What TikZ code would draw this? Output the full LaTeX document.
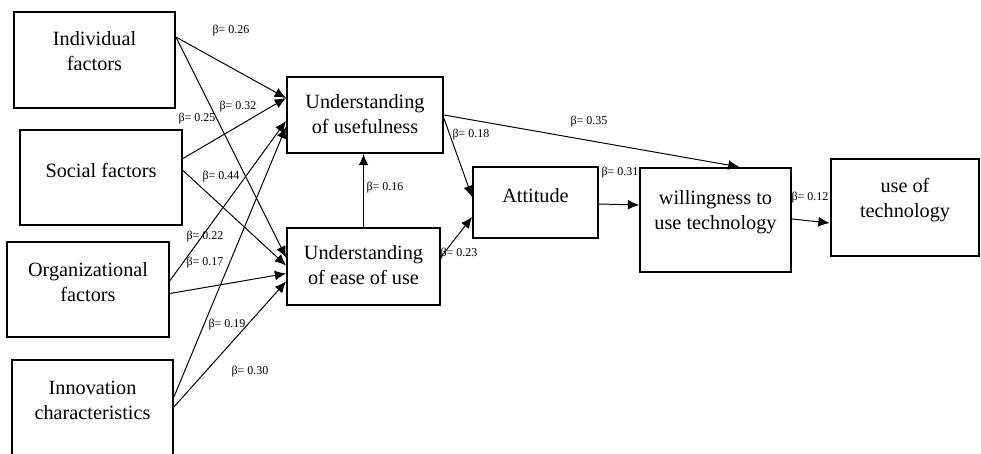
\documentclass[tikz,border=0pt]{standalone}
\usepackage{fontspec}
\setmainfont{Liberation Serif}
\usepackage{tikz}
\usetikzlibrary{positioning, arrows.meta, calc}

\tikzset{
	box/.style={draw, line width=1.4pt, align=center, inner xsep=2pt, inner ysep=0pt, font=\fontsize{14.4}{17.5}\selectfont},
	coef/.style={inner sep=0pt, font=\fontsize{8.5}{10}\selectfont},
	arr/.style={line width=0.7pt, -{Latex[length=8pt,width=7pt]}}
}

\begin{document}
\begin{tikzpicture}[x=0.025cm, y=-0.025cm]
	\useasboundingbox (0,0) rectangle (981,454);
	\node (ind) [box, minimum width=4.02cm, text height=1.465cm, text depth=0.935cm] at (94.5,60) {Individual\\factors};
	\node (soc) [box, minimum width=4.05cm, text height=1.175cm, text depth=1.2cm] at (101,177.5) {Social factors};
	\node (org) [box, minimum width=4.05cm, text height=1.475cm, text depth=0.9cm] at (88,289.5) {Organizational\\factors};
	\node (inn) [box, minimum width=4.02cm, text height=1.49cm, text depth=0.91cm] at (92.5,408) {Innovation\\characteristics};
	\node (use) [box, minimum width=3.9cm, text height=1.4cm, text depth=0.5cm] at (365,115) {Understanding\\of usefulness};
	\node (ease) [box, minimum width=3.82cm, text height=1.415cm, text depth=0.51cm] at (363.5,266.5) {Understanding\\of ease of use};
	\node (att) [box, minimum width=3.12cm, text height=0.875cm, text depth=0.9cm] at (535.5,202.5) {Attitude};
	\node (will) [box, minimum width=3.77cm, text height=1.54cm, text depth=1.06cm] at (715.5,220) {willingness to\\use technology};
	\node (tech) [box, minimum width=3.72cm, text height=1.465cm, text depth=0.96cm] at (905,207.5) {use of\\technology};

	\node (b1) [coef] at (231,31) {β= 0.26};
	\node (b2) [coef] at (238,107) {β= 0.32};
	\node (b3) [coef] at (197,119) {β= 0.25};
	\node (b4) [coef] at (221,177) {β= 0.44};
	\node (b5) [coef] at (205,237) {β= 0.22};
	\node (b6) [coef] at (205,263) {β= 0.17};
	\node (b7) [coef] at (227,325) {β= 0.19};
	\node (b8) [coef] at (250,372) {β= 0.30};
	\node (b9) [coef] at (385,188) {β= 0.16};
	\node (b10) [coef] at (471,135) {β= 0.18};
	\node (b11) [coef] at (589,122) {β= 0.35};
	\node (b12) [coef] at (620,173) {β= 0.31};
	\node (b13) [coef] at (459,254) {β= 0.23};
	\node (b14) [coef] at (810,198) {β= 0.12};

	\path[arr]
		($(ind.east)+(0,-23)$) edge ($(use.west)+(0,-17)$)
		($(ind.east)+(0,-23)$) edge ($(ease.west)+(0,-9)$)
		($(soc.east)+(0,-19)$) edge ($(use.west)+(0,-17)$)
		($(soc.east)+(0,-7)$) edge ($(ease.west)+(0,-1)$)
		($(org.east)+(0,-9)$) edge ($(use.west)+(0,6)$)
		($(org.east)+(0,4)$) edge ($(ease.west)+(0,7)$)
		($(inn.east)+(0,-11)$) edge ($(use.west)+(0,12)$)
		($(inn.east)+(0,-1)$) edge ($(ease.west)+(0,15)$)
		(ease.north) edge (ease.north |- use.south)
		($(use.east)+(0,3.5)$) edge ($(att.west)+(0,-5.5)$)
		(use.east) edge ($(will.north)+(24,0)$)
		($(ease.east)+(0,-9.5)$) edge ($(att.west)+(0,14.5)$)
		($(att.east)+(0,1.5)$) edge ($(will.west)+(0,-15)$)
		($(will.east)+(0,-1)$) edge ($(tech.west)+(0,15.5)$)
	;
\end{tikzpicture}
\end{document}
